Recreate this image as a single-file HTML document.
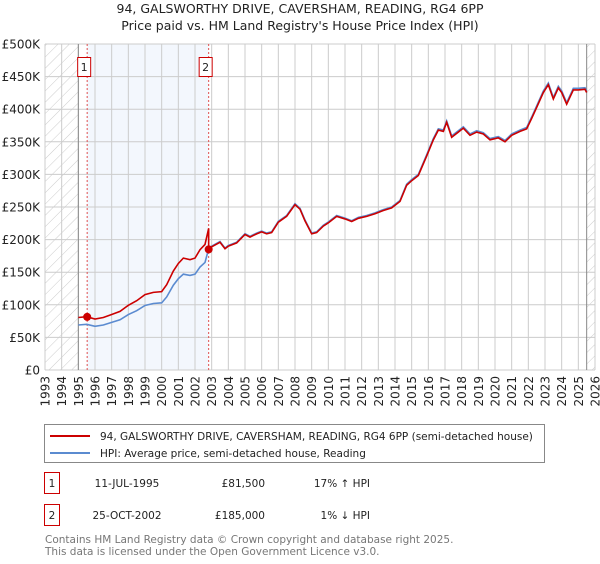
<!DOCTYPE html>
<html><head><meta charset="utf-8">
<style>
body{margin:0;background:#fff;width:600px;height:560px;overflow:hidden;font-family:"DejaVu Sans","Liberation Sans",sans-serif;}
svg text{font-family:"DejaVu Sans","Liberation Sans",sans-serif;}
</style></head>
<body>
<svg id="chart" width="600" height="560" xmlns="http://www.w3.org/2000/svg">
<defs>
<pattern id="hatch" width="8" height="8" patternUnits="userSpaceOnUse" patternTransform="rotate(45)">
<line x1="0" y1="0" x2="0" y2="8" stroke="#ccc" stroke-width="1"/>
</pattern>
</defs>
<text x="300" y="13" text-anchor="middle" font-size="12.5" fill="#222">94, GALSWORTHY DRIVE, CAVERSHAM, READING, RG4 6PP</text>
<text x="300" y="30" text-anchor="middle" font-size="12.5" fill="#222">Price paid vs. HM Land Registry's House Price Index (HPI)</text>
<g id="plot"></g>
<g>
<rect x="44.5" y="424.5" width="500" height="38" fill="#fff" stroke="#888"/>
<line x1="50" y1="436" x2="90" y2="436" stroke="#cc0000" stroke-width="2"/>
<text x="100" y="440" font-size="10.5" fill="#222">94, GALSWORTHY DRIVE, CAVERSHAM, READING, RG4 6PP (semi-detached house)</text>
<line x1="50" y1="453" x2="90" y2="453" stroke="#5b8bd0" stroke-width="2"/>
<text x="100" y="457" font-size="10.5" fill="#222">HPI: Average price, semi-detached house, Reading</text>
</g>
<g font-size="10.5" fill="#222">
<rect x="44.5" y="472.5" width="15" height="21" fill="#fff" stroke="#cc0000"/>
<text x="52" y="487" text-anchor="middle">1</text>
<text x="127" y="487" text-anchor="middle">11-JUL-1995</text>
<text x="265" y="487" text-anchor="end">£81,500</text>
<text x="370" y="487" text-anchor="end">17% ↑ HPI</text>
<rect x="44.5" y="504.5" width="15" height="21" fill="#fff" stroke="#cc0000"/>
<text x="52" y="519" text-anchor="middle">2</text>
<text x="127" y="519" text-anchor="middle">25-OCT-2002</text>
<text x="265" y="519" text-anchor="end">£185,000</text>
<text x="370" y="519" text-anchor="end">1% ↓ HPI</text>
</g>
<text x="45" y="543" font-size="10.5" fill="#777">Contains HM Land Registry data © Crown copyright and database right 2025.</text>
<text x="45" y="555" font-size="10.5" fill="#777">This data is licensed under the Open Government Licence v3.0.</text>
</svg>
<script>
const hpiDates=[1995.0,1995.5,1996.0,1996.5,1997.0,1997.5,1998.0,1998.5,1999.0,1999.5,2000.0,2000.3,2000.7,2001.0,2001.3,2001.7,2002.0,2002.3,2002.6,2002.83,2003.0,2003.5,2003.8,2004.0,2004.5,2005.0,2005.3,2005.7,2006.0,2006.3,2006.6,2007.0,2007.5,2008.0,2008.3,2008.6,2009.0,2009.3,2009.7,2010.0,2010.5,2011.0,2011.4,2011.8,2012.3,2012.8,2013.3,2013.8,2014.3,2014.7,2015.0,2015.4,2015.9,2016.3,2016.6,2016.9,2017.1,2017.4,2017.8,2018.1,2018.5,2018.9,2019.3,2019.7,2020.2,2020.6,2021.0,2021.5,2021.9,2022.2,2022.5,2022.9,2023.2,2023.5,2023.8,2024.0,2024.3,2024.7,2025.0,2025.4,2025.5];
const hpiValues=[69,70,67,69,73,77,85,91,99,102,103,112,130,140,147,145,147,158,165,187,190,197,187,191,196,209,205,210,213,210,212,228,237,255,248,230,210,212,222,227,237,233,229,234,237,241,246,250,260,285,292,300,330,355,370,368,382,359,367,373,362,367,364,355,358,352,362,368,372,388,405,428,440,418,435,428,410,432,432,433,428];
const saleDates=[1995.53,2002.82];
const salePrices=[81.5,185];
const saleLabels=["1","2"];
const yTicks=[0,50,100,150,200,250,300,350,400,450,500];
const yTickLabels=["£0","£50K","£100K","£150K","£200K","£250K","£300K","£350K","£400K","£450K","£500K"];
const xYears=[1993,1994,1995,1996,1997,1998,1999,2000,2001,2002,2003,2004,2005,2006,2007,2008,2009,2010,2011,2012,2013,2014,2015,2016,2017,2018,2019,2020,2021,2022,2023,2024,2025,2026];

const X0=45,X1=595,Y0=370,Y1=44;
const xs=d=>X0+(d-1993)/(2026-1993)*(X1-X0);
const ys=v=>Y0-v/500*(Y0-Y1);
const NS="http://www.w3.org/2000/svg";
const plot=document.getElementById('plot');
function mk(tag,attrs,parent){const e=document.createElementNS(NS,tag);for(const k in attrs)e.setAttribute(k,attrs[k]);(parent||plot).appendChild(e);return e;}

let r=mk('rect',{x:xs(saleDates[0]),y:Y1,width:xs(saleDates[1])-xs(saleDates[0]),height:Y0-Y1,fill:'#eef3fc',opacity:0.7});


r=mk('rect',{x:X0,y:Y1,width:xs(1995)-X0,height:Y0-Y1,fill:'url(#hatch)'});


r=mk('rect',{x:xs(2025.5),y:Y1,width:X1-xs(2025.5),height:Y0-Y1,fill:'url(#hatch)'});



yTicks.forEach((t,i)=>{
  const l=mk('line',{x1:X0,x2:X1,y1:ys(t),y2:ys(t),stroke:'#ccc','stroke-width':1});
  
  
  const tx=mk('text',{x:X0-5,y:ys(t)+4.5,'text-anchor':'end','font-size':12,fill:'#222'});
  tx.textContent=yTickLabels[i];
  
  
});
xYears.forEach(yr=>{
  const l=mk('line',{x1:xs(yr),x2:xs(yr),y1:Y1,y2:Y0,stroke:'#ccc','stroke-width':1});
  
  
  const tx=mk('text',{x:0,y:0,'text-anchor':'end','font-size':12,fill:'#222',transform:`translate(${xs(yr)+4.5},${Y0+6}) rotate(-90)`});
  tx.textContent=yr;
  
  
});
let ln=mk('line',{x1:xs(1995),x2:xs(1995),y1:Y1,y2:Y0,stroke:'#888'});


ln=mk('line',{x1:xs(2025.5),x2:xs(2025.5),y1:Y1,y2:Y0,stroke:'#888'});



saleDates.forEach((d,i)=>{
  const l=mk('line',{x1:xs(d),x2:xs(d),y1:Y1,y2:Y0,stroke:'#e05050','stroke-dasharray':'2,2'});
  
  
});

const interp=d=>{for(let i=1;i<hpiDates.length;i++){if(d<=hpiDates[i]){const t=(d-hpiDates[i-1])/(hpiDates[i]-hpiDates[i-1]);return hpiValues[i-1]+t*(hpiValues[i]-hpiValues[i-1]);}}return hpiValues[hpiValues.length-1];};
let p=mk('polyline',{points:hpiDates.map((d,i)=>xs(d)+','+ys(hpiValues[i])).join(' '),fill:'none',stroke:'#5b8bd0','stroke-width':1.6});



const f1=salePrices[0]/interp(saleDates[0]), f2=salePrices[1]/interp(saleDates[1]);
const pts=[];
hpiDates.forEach((d,i)=>{ if(d<saleDates[1]) pts.push(xs(d)+','+ys(hpiValues[i]*f1)); });
pts.push(xs(saleDates[1])+','+ys(interp(saleDates[1])*f1));
pts.push(xs(saleDates[1])+','+ys(salePrices[1]));
hpiDates.forEach((d,i)=>{ if(d>saleDates[1]) pts.push(xs(d)+','+ys(hpiValues[i]*f2)); });
p=mk('polyline',{points:pts.join(' '),fill:'none',stroke:'#cc0000','stroke-width':1.6});



saleDates.forEach((d,i)=>{
  const c=mk('circle',{cx:xs(d),cy:ys(salePrices[i]),r:4,fill:'#cc0000'});
  
  
  const bx=mk('rect',{x:xs(d)-9.5,y:57.5,width:13,height:19,fill:'#fff',stroke:'#cc0000'});
  
  
  const t=mk('text',{x:xs(d)-3,y:71,'text-anchor':'middle','font-size':11,fill:'#222'});
  t.textContent=saleLabels[i];
  
  
});
</script>
</body></html>
